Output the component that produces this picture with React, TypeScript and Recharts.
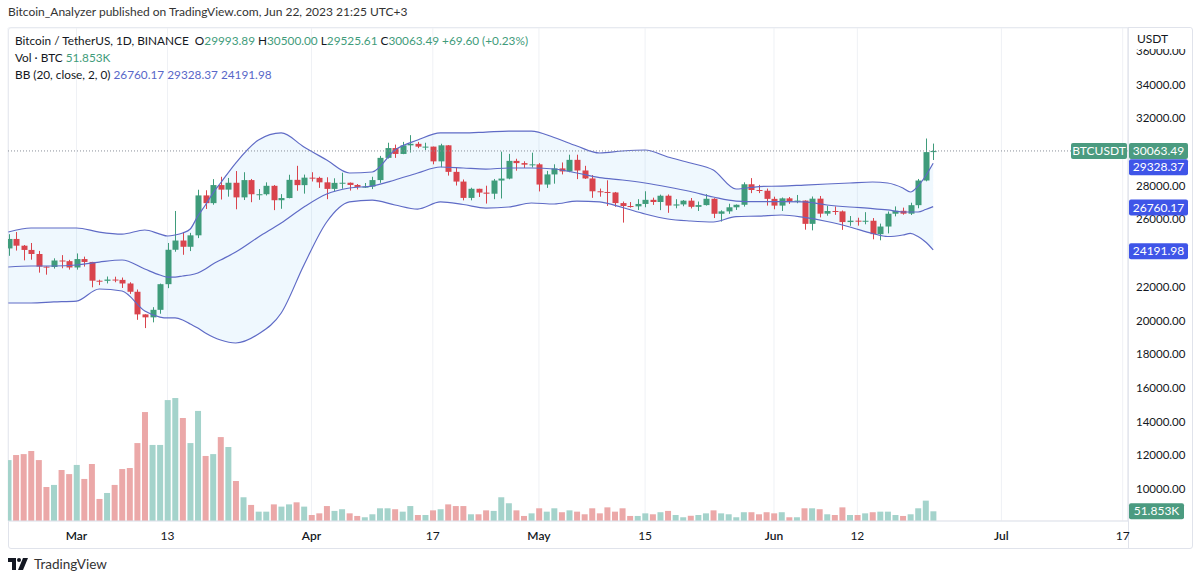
import { Area, Bar, CartesianGrid, Cell, ComposedChart, Line, ReferenceLine, XAxis, YAxis } from "recharts";

const FONT = "Lato, 'Open Sans', sans-serif";
const UP = "#3f9c7b";
const DOWN = "#d9444d";
const VOL_UP = "#a4d3cb";
const VOL_DOWN = "#eba8a8";
const BB_LINE = "#5f6bc6";
const TAG_GREEN = "#4b9b80";
const TAG_BLUE = "#3f55e8";
const TEXT = "#131722";

// daily candles, Feb 20 2023 (day 0) .. Jun 22 2023 (day 122)
const opens = [
  24278, 24840, 24440, 24188, 23947, 23198, 23175, 23561, 23522,
  23147, 23646, 23475, 22362, 22354, 22430, 22410, 22197, 21705, 20363, 20187, 20633, 22156, 24198, 24746, 24375,
  25055, 27424, 26965, 28038, 27767, 28175, 27307, 28333, 27493, 27494, 27994, 27139, 27268, 28348, 28034,
  28478, 28465, 28200, 27811, 28169, 28176, 28044, 27926, 27948, 28334, 29653, 30235, 29885, 30396, 30486,
  30318, 30320, 29445, 30397, 28822, 28245, 27276, 27817, 27591, 27525, 28307, 28423, 29474, 29341, 29249,
  29268, 28069, 28670, 29027, 28848, 29535, 28904, 28431, 27669, 27628, 27599, 26969, 26795, 26775, 26917,
  27162, 27033, 27405, 26822, 26890, 27112, 26747, 26849, 27225, 26334, 26477, 26719, 26868, 28085, 27745, 27702,
  27219, 26819, 27249, 27069, 27116, 25736, 27231, 26340, 26499, 26477, 25842, 25925, 25903, 25920, 25125,
  25577, 26337, 26511, 26340, 26845, 28308, 29993.89,
];
const highs = [
  25120, 25250, 24480, 24600, 24130, 23220, 23690, 23880, 23600,
  23980, 23790, 23480, 22420, 22610, 22600, 22550, 22270, 21840, 20370, 20790, 22190, 24600, 26500, 25250, 25200,
  27760, 27730, 28390, 28530, 28460, 28870, 28800, 28400, 27800, 28200, 28040, 27500, 28650, 29180, 28660,
  28800, 28530, 28500, 28440, 28770, 28190, 28100, 28160, 28530, 29770, 30550, 30440, 30600, 31000, 30600,
  30550, 30320, 30490, 30410, 29100, 28370, 27880, 27820, 28000, 28400, 30020, 29890, 29600, 29450, 29960,
  29340, 28880, 29270, 29380, 29840, 29840, 29180, 28630, 27830, 28320, 27630, 27060, 27030, 27200, 27670,
  27290, 27470, 27480, 27200, 27150, 27270, 27060, 27500, 27260, 26540, 26930, 26890, 28200, 28450, 28050, 27830,
  27350, 27300, 27330, 27450, 27130, 27360, 27390, 26810, 26770, 26530, 26200, 26100, 26430, 26080, 25750,
  26470, 26770, 26700, 26990, 28400, 30800, 30500,
];
const lows = [
  23840, 24150, 23570, 23610, 22840, 22720, 23080, 23100, 23020,
  23020, 23200, 21970, 22100, 22200, 22270, 21930, 21580, 20040, 19550, 19890, 20400, 21920, 24080, 23900, 24120,
  24890, 26620, 26870, 27180, 27350, 26600, 27150, 27020, 27160, 27420, 26550, 26630, 27250, 27700, 27530,
  28250, 27870, 27200, 27680, 27820, 27710, 27780, 27870, 27800, 28170, 29610, 29650, 29870, 29970, 30230,
  30120, 29270, 29100, 28600, 28010, 27130, 27130, 27330, 26940, 27200, 27240, 28380, 28890, 29050, 29080,
  27660, 27870, 28120, 28670, 28800, 28390, 28400, 27280, 27350, 26800, 26750, 25810, 26700, 26560, 26720,
  26860, 26550, 26390, 26660, 26780, 26650, 26500, 26820, 26080, 25870, 26330, 26560, 26760, 27560, 27560, 26820,
  26600, 26500, 26920, 26960, 25390, 25350, 26120, 26220, 26270, 25380, 25620, 25630, 25710, 24820, 24760,
  25170, 26180, 26280, 26260, 26660, 28260, 29525.61,
];
const closes = [
  24840, 24440, 24188, 23947, 23198, 23175, 23561, 23522, 23147,
  23646, 23475, 22362, 22354, 22430, 22410, 22197, 21705, 20363, 20187, 20633, 22156, 24198, 24746, 24375, 25055,
  27424, 26965, 28038, 27767, 28175, 27307, 28333, 27493, 27494, 27994, 27139, 27268, 28348, 28034, 28478,
  28465, 28200, 27811, 28169, 28176, 28044, 27926, 27948, 28334, 29653, 30235, 29885, 30396, 30486, 30318,
  30320, 29445, 30397, 28822, 28245, 27276, 27817, 27591, 27525, 28307, 28423, 29474, 29341, 29249, 29268,
  28069, 28670, 29027, 28848, 29535, 28904, 28431, 27669, 27628, 27599, 26969, 26795, 26775, 26917, 27162,
  27033, 27405, 26822, 26890, 27112, 26747, 26849, 27225, 26334, 26477, 26719, 26868, 28085, 27745, 27702, 27219,
  26819, 27249, 27069, 27116, 25736, 27231, 26340, 26499, 26477, 25842, 25925, 25903, 25920, 25125, 25577,
  26337, 26511, 26340, 26845, 28308, 29994, 30063.49,
];
// volume in thousands of BTC
const volumes = [
  326, 353, 358, 375, 326, 182, 193, 273, 251,
  300, 225, 305, 118, 150, 193, 278, 284, 417, 583, 407, 407, 647, 658, 551, 417,
  589, 348, 358, 449, 396, 214, 127, 86, 50, 50, 89, 77, 89, 100, 77,
  32, 41, 80, 54, 63, 41, 27, 20, 36, 68, 68, 63, 50, 80, 32,
  32, 57, 63, 89, 80, 80, 36, 36, 57, 54, 127, 95, 57, 27, 41,
  68, 50, 68, 47, 57, 50, 36, 68, 41, 73, 50, 68, 27, 27, 41,
  36, 47, 54, 32, 20, 28, 32, 41, 57, 41, 36, 20, 47, 47, 36, 47,
  41, 47, 20, 20, 68, 68, 63, 36, 32, 73, 32, 32, 41, 47, 50,
  50, 32, 27, 36, 68, 109, 51.853,
];

// Bollinger Bands (20, close, 2) at these days
const bbDays = [
  0, 3, 6, 9, 12, 15, 18, 20, 21, 22, 23, 24, 25, 26, 27, 28, 30, 33, 36, 39, 42, 45, 48, 51, 54,
  57, 60, 63, 66, 69, 72, 75, 78, 81, 84, 87, 90, 93, 96, 99, 102, 105, 108, 111, 114, 116, 118, 119, 120, 121, 122,
];
const bbUpper = [
  25250, 25490, 25490, 25490, 25250, 25130, 25370, 25130, 25015, 25075, 25195, 25430, 26200, 26855, 27565, 28160,
  29345, 30710, 31130, 30300, 29525, 28755, 28815, 30120, 30710, 31130, 31130, 31185, 31245, 31245, 30860, 30355,
  29940, 30060, 30120, 29705, 29345, 28930, 27805, 27950, 27980, 28040, 28100, 28160, 28220, 28160, 27865, 27625,
  27980, 28575, 29328.37,
];
const bbBasis = [
  23175, 23235, 23235, 23295, 23470, 23590, 23055, 22700, 22580, 22580, 22640, 22700, 22820, 23055, 23355, 23590,
  24065, 24955, 25785, 26735, 27505, 27865, 27980, 28340, 28755, 29110, 29050, 28990, 29050, 29050, 28990, 28755,
  28485, 28340, 28160, 27925, 27655, 27330, 27090, 27060, 27060, 27035, 26855, 26735, 26645, 26560, 26440, 26440,
  26440, 26585, 26760.17,
];
const bbLower = [
  21040, 21040, 21100, 21155, 21870, 21750, 20565, 20205, 20150, 20150, 20030, 19790, 19555, 19255, 19020, 18840,
  18665, 19200, 20445, 23295, 25845, 27035, 27150, 26855, 26615, 27035, 26885, 26675, 26735, 26975, 26915, 27090,
  27035, 26705, 26320, 26025, 25905, 25845, 26170, 26200, 26260, 26115, 25875, 25550, 25165, 24985, 25075, 25165,
  24980, 24660, 24191.98,
];

const tickDays = [9, 21, 40, 56, 70, 84, 101, 112, 131, 147];
const tickLabels = ["Mar", "13", "Apr", "17", "May", "15", "Jun", "12", "Jul", "17"];
const priceTicks = [10000, 12000, 14000, 16000, 18000, 20000, 22000, 24000, 26000, 28000, 30000, 32000, 34000, 36000];

const tagValues = [30063.49, 29328.37, 26760.17, 24191.98];
const tagColors = [TAG_GREEN, TAG_BLUE, TAG_BLUE, TAG_BLUE];
const tagShift = [0, 4, 1, 1.5];
const lastVolume = 51.853;

const X_DOMAIN: [number, number] = [-0.04, 147.7];
const Y_DOMAIN: [number, number] = [8100, 37360];

// scale labels hidden behind a tag box are not drawn (as on TradingView)
const visibleLabels = priceTicks.filter((t) => tagValues.every((v) => Math.abs(v - t) > 500));

const data = opens.map((o, i) => ({
  d: i,
  o,
  h: highs[i],
  l: lows[i],
  c: closes[i],
  hl: [lows[i], highs[i]],
  v: volumes[i],
}));

const bbData = bbDays.map((d, i) => ({
  d,
  up: bbUpper[i],
  mid: bbBasis[i],
  lo: bbLower[i],
  band: [bbLower[i], bbUpper[i]],
}));

function Candle(props: any) {
  const { x, width, payload } = props;
  let { y, height } = props;
  if (height < 0) {
    y += height;
    height = -height;
  }
  const { o, h, l, c } = payload;
  const color = c >= o ? UP : DOWN;
  const k = h > l ? height / (h - l) : 0;
  const top = y + (h - Math.max(o, c)) * k;
  const bot = y + (h - Math.min(o, c)) * k;
  const cx = Math.round(x + width / 2) + 0.5;
  return (
    <g>
      <line x1={cx} x2={cx} y1={y} y2={y + height} stroke={color} strokeWidth={1} />
      <rect x={cx - 3} y={top} width={6} height={Math.max(1, bot - top)} fill={color} />
    </g>
  );
}

function DateTick(props: any) {
  const { x, y, payload } = props;
  const i = tickDays.indexOf(payload.value);
  const label = tickLabels[i] ?? "";
  const month = /[A-Za-z]/.test(label);
  return (
    <text x={x} y={y} dy="0.9em" textAnchor="middle" fontSize={12} fill={TEXT} fontWeight={month ? 600 : 400} fontFamily={FONT}>
      {label}
    </text>
  );
}

// price scale label, drawn in the reference-line layer so the tags can sit on top
function PriceLabel(props: any) {
  const vb = props.viewBox || {};
  return (
    <text x={vb.x + vb.width + 8} y={vb.y} dy="0.355em" fontSize={11.5} fill={TEXT} fontFamily={FONT}>
      {props.value.toFixed(2)}
    </text>
  );
}

// price tag drawn at the right edge of a horizontal reference line
function PriceTag(props: any) {
  const vb = props.viewBox || {};
  const i: number = props.tag;
  const right = vb.x + vb.width;
  const yy = vb.y + tagShift[i];
  const left = right + 1;
  return (
    <g fontFamily={FONT} fontSize={12}>
      {i === 0 && (
        <g>
          <rect x={left - 58} y={yy - 8} width={56} height={16} rx={2} fill={TAG_GREEN} />
          <text x={left - 30} y={yy + 4} textAnchor="middle" fill="#fff">
            BTCUSDT
          </text>
        </g>
      )}
      <rect x={left} y={yy - 8} width={59} height={16} rx={2} fill={tagColors[i]} />
      <text x={left + 29.5} y={yy + 4} textAnchor="middle" fill="#fff">
        {tagValues[i].toFixed(2)}
      </text>
    </g>
  );
}

function VolTag(props: any) {
  const vb = props.viewBox || {};
  const left = vb.x + vb.width + 1;
  const y = vb.y;
  return (
    <g fontFamily={FONT} fontSize={12}>
      <rect x={left} y={y - 8} width={55} height={16} rx={2} fill={TAG_GREEN} />
      <text x={left + 27.5} y={y + 4} textAnchor="middle" fill="#fff">
        {lastVolume.toFixed(3)}K
      </text>
    </g>
  );
}

const green = { color: "#3f9c7b" };
const blue = { color: "#5867c8" };

export default function App() {
  return (
    <div
      style={{
        position: "absolute",
        left: 0,
        top: 0,
        width: 1200,
        height: 578,
        background: "#fff",
        overflow: "hidden",
        fontFamily: FONT,
        color: TEXT,
      }}
    >
      <div style={{ position: "absolute", left: 8, top: 4, fontSize: 12, color: "#333" }}>
        Bitcoin_Analyzer published on TradingView.com, Jun 22, 2023 21:25 UTC+3
      </div>
      <div
        style={{
          position: "absolute",
          left: 8,
          top: 27,
          width: 1185,
          height: 522,
          border: "1px solid #e0e3eb",
          borderRadius: 3,
          boxSizing: "border-box",
        }}
      />
      <div style={{ position: "absolute", left: 1128, top: 27, width: 1, height: 522, background: "#e0e3eb" }} />
      <div style={{ position: "absolute", left: 0, top: 0 }}>
        <ComposedChart width={1193} height={549} data={data} margin={{ top: 28, left: 8, right: 0, bottom: 0 }}>
          <CartesianGrid stroke="#eff1f5" />
          <XAxis
            dataKey="d"
            type="number"
            domain={X_DOMAIN}
            allowDataOverflow
            ticks={tickDays}
            interval={0}
            tickLine={false}
            tickSize={0}
            tickMargin={8}
            axisLine={{ stroke: "#e0e3eb" }}
            height={28}
            tick={<DateTick />}
          />
          <XAxis xAxisId="v" dataKey="d" type="number" domain={X_DOMAIN} allowDataOverflow hide />
          <YAxis
            orientation="right"
            domain={Y_DOMAIN}
            allowDataOverflow
            ticks={priceTicks}
            interval={0}
            tickLine={false}
            tick={false}
            axisLine={{ stroke: "#e0e3eb" }}
            width={65}
          />
          <YAxis yAxisId="vol" orientation="right" domain={[0, 2638]} allowDataOverflow hide />
          <Bar xAxisId="v" yAxisId="vol" dataKey="v" barSize={6} isAnimationActive={false}>
            {data.map((e) => (
              <Cell key={e.d} fill={e.c >= e.o ? VOL_UP : VOL_DOWN} />
            ))}
          </Bar>
          <Area
            data={bbData}
            dataKey="band"
            type="monotone"
            stroke="none"
            fill="#2196f3"
            fillOpacity={0.07}
            isAnimationActive={false}
          />
          <Line data={bbData} dataKey="up" type="monotone" stroke={BB_LINE} strokeWidth={1.2} dot={false} isAnimationActive={false} />
          <Line data={bbData} dataKey="mid" type="monotone" stroke={BB_LINE} strokeWidth={1.2} dot={false} isAnimationActive={false} />
          <Line data={bbData} dataKey="lo" type="monotone" stroke={BB_LINE} strokeWidth={1.2} dot={false} isAnimationActive={false} />
          <Bar dataKey="hl" barSize={6} shape={<Candle />} isAnimationActive={false} />
          <ReferenceLine y={closes[closes.length - 1]} stroke="#8a8f99" strokeDasharray="1 2" />
          {visibleLabels.map((t) => (
            <ReferenceLine key={`p${t}`} y={t} stroke="none" ifOverflow="visible" label={<PriceLabel value={t} />} />
          ))}
          {tagValues.map((v, i) => (
            <ReferenceLine key={v} y={v} stroke="none" ifOverflow="visible" label={<PriceTag tag={i} />} />
          ))}
          <ReferenceLine
            xAxisId="v"
            yAxisId="vol"
            y={lastVolume}
            stroke="none"
            ifOverflow="visible"
            label={<VolTag />}
          />
        </ComposedChart>
      </div>
      <div style={{ position: "absolute", left: 15, top: 32, fontSize: 11.8, lineHeight: "17px", whiteSpace: "pre" }}>
        <div>
          Bitcoin / TetherUS, 1D, BINANCE{"  "}O<span style={green}>29993.89</span> H<span style={green}>30500.00</span> L
          <span style={green}>29525.61</span> C<span style={green}>30063.49</span> <span style={green}>+69.60 (+0.23%)</span>
        </div>
        <div>
          Vol · BTC <span style={green}>51.853K</span>
        </div>
        <div>
          BB (20, close, 2, 0) <span style={blue}>26760.17 29328.37 24191.98</span>
        </div>
      </div>
      <div
        style={{
          position: "absolute",
          left: 1129,
          top: 28,
          width: 62,
          height: 21,
          background: "#fff",
          fontSize: 12,
          paddingLeft: 8,
          paddingTop: 3,
          boxSizing: "border-box",
        }}
      >
        USDT
      </div>
      <div style={{ position: "absolute", left: 8, top: 556, display: "flex", alignItems: "center", gap: 4 }}>
        <svg width={22} height={14} viewBox="0 0 22 14">
          <path d="M0 1h8v12H4V5H0z" fill="#131722" />
          <circle cx={11} cy={3} r={2} fill="#131722" />
          <path d="M15 1h5l-5 12h-5z" fill="#131722" />
        </svg>
        <span style={{ fontSize: 13.5, color: "#333" }}>TradingView</span>
      </div>
    </div>
  );
}
